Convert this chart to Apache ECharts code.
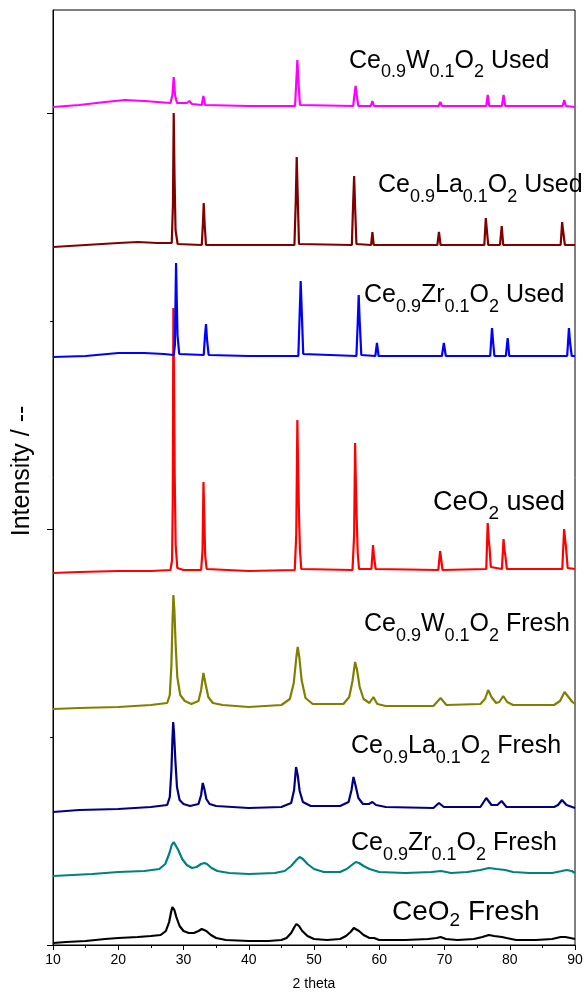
<!DOCTYPE html>
<html><head><meta charset="utf-8">
<script src="https://cdn.jsdelivr.net/npm/echarts@6/dist/echarts.min.js"></script>
<style>html,body{margin:0;padding:0;background:#fff}#c{width:587px;height:998px}</style>
</head><body><div id="c"></div>
<script>
// ---- data (2theta, stacked intensity, arbitrary units) ----
const xTickValues = [10, 20, 30, 40, 50, 60, 70, 80, 90];
const yMajorTicks = [0, 416, 832];
const yMinorTicks = [208, 624];

const ceo2Fresh = [[10,2],[12,3],[15,4],[18,6],[20,7],[23,8],[25,9],[26.5,10],[27.3,14],[27.8,23],[28.1,33],[28.3,38],[28.6,35],[28.9,28],[29.4,19],[30,14],[30.8,12],[31.6,12],[32.3,14],[32.8,16],[33.1,16],[33.5,14],[34.2,10],[35,7],[36.5,5],[40,4],[43,4],[45,5],[45.8,7],[46.5,12],[47,18],[47.3,21],[47.7,19],[48.2,14],[49,9],[50,6],[52,5],[54,6],[54.9,9],[55.6,13],[56.1,17],[56.4,17],[56.9,14],[57.6,10],[58.5,7],[59.2,7],[60,5],[64,5],[67.5,6],[68.8,7],[69.4,8],[70.2,6],[72,5],[74.5,6],[75.8,8],[76.8,10],[77.6,9],[78.8,8],[79.5,7],[81,5],[84,5],[86.5,6],[87.8,8],[88.5,8],[89.3,7],[90,6]];
const zrFresh = [[10,69],[13,70],[16,71],[20,73],[24,74],[26.3,76],[27.2,81],[27.8,91],[28.2,100],[28.5,103],[28.8,101],[29.2,95],[29.8,86],[30.5,80],[31.3,77],[32,78],[32.7,81],[33.2,82],[33.6,81],[34.3,77],[35.2,74],[37,72],[40,71],[44,72],[45.5,74],[46.5,79],[47.3,85],[47.8,88],[48.3,86],[49,81],[50,76],[51.5,73],[54,73],[55,76],[55.8,80],[56.4,83],[56.9,82],[57.6,79],[58.5,76],[60,73],[64,72],[68,73],[69.5,74],[71,72],[73.5,73],[75.5,75],[76.8,77],[78,76],[79.3,75],[80.5,73],[83,72],[86.5,72],[88,74],[88.7,75],[89.5,74],[90,72]];
const laFresh = [[10,133],[14,135],[20,136],[25,138],[27.5,140],[27.9,148],[28.15,175],[28.3,205],[28.42,223],[28.55,212],[28.75,185],[29,158],[29.4,145],[30,141],[31,139],[32.3,141],[32.7,150],[32.95,162],[33.2,156],[33.5,146],[34,141],[35,139],[40,137],[45,138],[46.5,142],[46.95,155],[47.25,178],[47.5,170],[47.8,154],[48.3,143],[49.5,139],[54,139],[55.3,143],[55.75,155],[56.05,168],[56.35,160],[56.8,147],[57.5,141],[58.4,141],[58.95,143],[59.5,140],[61,138],[68.3,137],[69.15,142],[69.9,138],[75.5,138],[76.4,147],[77.2,140],[78.1,140],[78.75,144],[79.5,138],[86.8,138],[87.4,140],[88,145],[88.7,140],[90,137]];
const wFresh = [[10,236],[14,237],[20,238],[25,240],[27.5,242],[27.9,250],[28.15,280],[28.3,320],[28.45,350],[28.6,335],[28.8,300],[29.05,268],[29.5,250],[30.2,244],[31.2,241],[32.3,244],[32.7,255],[33.05,272],[33.35,262],[33.8,248],[34.5,242],[36,240],[40,238],[45,240],[46.3,246],[46.9,262],[47.3,288],[47.5,298],[47.75,288],[48.1,265],[48.7,247],[49.8,241],[54.5,241],[55.4,248],[55.9,264],[56.3,283],[56.6,275],[57.0,258],[57.6,246],[58.5,242],[59.1,248],[59.7,241],[61,239],[68.3,239],[69.4,247],[70.3,240],[75.5,241],[76.2,246],[76.7,255],[77.2,248],[77.9,242],[78.4,243],[79,249],[79.6,243],[80.5,240],[86.8,240],[87.7,244],[88.4,253],[89,248],[89.6,243],[90,241]];
const ceo2Used = [[10,372],[14,373],[20,374],[25,374],[28,375],[28.25,385],[28.35,440],[28.45,637],[28.55,560],[28.65,470],[28.8,400],[29.05,377],[30,375],[32.7,375],[32.92,395],[33.06,463],[33.18,430],[33.32,390],[33.55,376],[40,374],[47.05,375],[47.28,410],[47.45,525],[47.58,470],[47.7,430],[47.85,395],[48.05,376],[55.9,375],[56.15,410],[56.3,502],[56.42,460],[56.55,425],[56.7,392],[56.9,376],[58.8,376],[59.05,400],[59.2,388],[59.45,376],[69.05,375],[69.33,394],[69.48,386],[69.7,375],[76.4,376],[76.62,422],[76.78,405],[76.9,398],[77.1,378],[78.8,376],[79.05,406],[79.2,394],[79.32,390],[79.55,376],[88.05,376],[88.33,416],[88.5,405],[88.62,398],[88.88,377],[90,376]];
const zrUsed = [[10,588],[15,589],[20,592],[24,592],[27,591],[28.5,590],[28.68,600],[28.78,645],[28.86,682],[28.95,650],[29.08,610],[29.35,591],[33.1,590],[33.3,610],[33.45,621],[33.6,606],[33.85,590],[40,589],[47.6,589],[47.8,630],[47.96,664],[48.1,638],[48.35,591],[56.5,589],[56.7,622],[56.85,650],[57.0,624],[57.25,590],[59.4,589],[59.65,602],[59.9,589],[69.6,589],[69.9,602],[70.2,589],[77.0,589],[77.28,617],[77.45,603],[77.65,589],[79.4,589],[79.68,607],[79.92,589],[88.8,589],[89.07,617],[89.25,602],[89.5,589],[90,589]];
const laUsed = [[10,698],[15,700],[20,702],[23,703],[26,702],[28.2,702],[28.38,740],[28.5,832],[28.62,770],[28.78,715],[29.1,701],[32.8,700],[32.98,722],[33.1,742],[33.25,720],[33.45,700],[40,700],[47.0,700],[47.2,742],[47.35,788],[47.5,750],[47.7,701],[55.8,700],[56.0,742],[56.15,769],[56.3,738],[56.5,701],[58.75,700],[58.95,713],[59.15,700],[68.9,700],[69.15,713],[69.4,700],[76.1,700],[76.33,727],[76.48,716],[76.7,700],[78.5,700],[78.77,719],[79.0,700],[87.8,700],[88.03,723],[88.18,714],[88.45,700],[90,700]];
const wUsed = [[10,838],[14,840],[18,843],[21,845],[24,844],[26,843],[28,842],[28.3,850],[28.5,868],[28.7,850],[29,842],[30.5,842],[30.9,844],[31.3,841],[32.8,840],[33.05,849],[33.3,840],[40,839],[47.1,839],[47.3,865],[47.45,885],[47.6,865],[47.85,840],[56.0,839],[56.2,850],[56.38,859],[56.55,850],[56.8,839],[58.7,839],[58.95,844],[59.2,839],[69.1,839],[69.35,843],[69.6,839],[76.4,839],[76.62,850],[76.85,839],[78.8,839],[79.05,850],[79.3,839],[88.1,839],[88.35,845],[88.6,839],[90,838]];

const seriesNames = ['CeO2 Fresh','Ce0.9Zr0.1O2 Fresh','Ce0.9La0.1O2 Fresh','Ce0.9W0.1O2 Fresh','CeO2 used','Ce0.9Zr0.1O2 Used','Ce0.9La0.1O2 Used','Ce0.9W0.1O2 Used'];
const seriesData = [ceo2Fresh, zrFresh, laFresh, wFresh, ceo2Used, zrUsed, laUsed, wUsed];
// label pieces: alternating normal / subscript
const labelParts = [
  ['CeO','2',' Fresh'],
  ['Ce','0.9','Zr','0.1','O','2',' Fresh'],
  ['Ce','0.9','La','0.1','O','2',' Fresh'],
  ['Ce','0.9','W','0.1','O','2',' Fresh'],
  ['CeO','2',' used'],
  ['Ce','0.9','Zr','0.1','O','2',' Used'],
  ['Ce','0.9','La','0.1','O','2',' Used'],
  ['Ce','0.9','W','0.1','O','2',' Used']
];
const xAxisTitle = '2 theta';
const yAxisTitle = 'Intensity / --';

// ---- styling / layout ----
const colors = ['#000000','#008080','#000080','#808000','#ff0000','#0000ff','#800000','#ff00ff'];
const labelPos = [[392,922],[351,852],[351,755],[364,633],[433,512],[364,304],[378,194],[349,70]]; // left, baseline (px)
const labelFont = [[28,19,5],[25,18,9],[25,18,9],[25,18,9],[27,19,8],[25,18,9],[25,18,9],[25,18,8]]; // main size, sub size, sub drop
const FONT = '"Liberation Sans", Arial, Helvetica, sans-serif';

const chart = echarts.init(document.getElementById('c'), null, {renderer:'canvas'});

const series = seriesData.map((d, i) => ({
  name: seriesNames[i], type: 'line', data: d, showSymbol: false, smooth: false,
  silent: true, lineStyle: {color: colors[i], width: 2.2}, itemStyle: {color: colors[i]}, z: 2 + i
}));

function richString(parts) {
  return parts.map((p, i) => '{' + (i % 2 ? 's' : 'n') + '|' + p + '}').join('');
}
const K = 0.8465; // half line + (ascent-descent)/2 for Liberation Sans
const graphics = labelParts.map((parts, i) => {
  const [fs, ss, drop] = labelFont[i];
  const pad = K * fs + drop - K * ss;
  return {
    type: 'text', x: labelPos[i][0], y: labelPos[i][1] - K * fs, z: 50,
    style: {
      text: richString(parts), fill: '#000', align: 'left', verticalAlign: 'top',
      rich: {
        n: {fontSize: fs, fontFamily: FONT, lineHeight: fs, verticalAlign: 'top', fill: '#000'},
        s: {fontSize: ss, fontFamily: FONT, lineHeight: ss, padding: [pad, 0, 0, 0], verticalAlign: 'top', fill: '#000'}
      }
    }
  };
});
graphics.push({
  type: 'text', x: 22, y: 471, rotation: Math.PI / 2, z: 50,
  style: {text: yAxisTitle, fill: '#000', align: 'center', verticalAlign: 'middle', font: '25px ' + FONT}
});

chart.setOption({
  animation: false,
  backgroundColor: '#fff',
  grid: {left: 53, right: 12, top: 10, bottom: 53, show: true, borderColor: '#000', borderWidth: 1, containLabel: false},
  xAxis: {
    type: 'value', min: 10, max: 90, interval: 10,
    axisLine: {show: true, lineStyle: {color: '#000', width: 1}},
    axisTick: {show: true, length: 5, lineStyle: {color: '#000'}},
    minorTick: {show: true, splitNumber: 2, length: 3, lineStyle: {color: '#000'}},
    axisLabel: {color: '#000', fontSize: 14, fontFamily: FONT, margin: 8, customValues: xTickValues},
    splitLine: {show: false},
    name: xAxisTitle, nameLocation: 'middle', nameGap: 32,
    nameTextStyle: {color: '#000', fontSize: 14, fontFamily: FONT}
  },
  yAxis: [{
    type: 'value', min: 0, max: 935,
    axisLine: {show: true, lineStyle: {color: '#000', width: 1}},
    axisTick: {show: true, length: 6, customValues: yMajorTicks, lineStyle: {color: '#000'}},
    axisLabel: {show: false},
    splitLine: {show: false}
  }, {
    type: 'value', min: 0, max: 935, position: 'left',
    axisLine: {show: false},
    axisTick: {show: true, length: 3, customValues: yMinorTicks, lineStyle: {color: '#000'}},
    axisLabel: {show: false},
    splitLine: {show: false}
  }],
  series: series,
  graphic: graphics
});
</script>
</body></html>
